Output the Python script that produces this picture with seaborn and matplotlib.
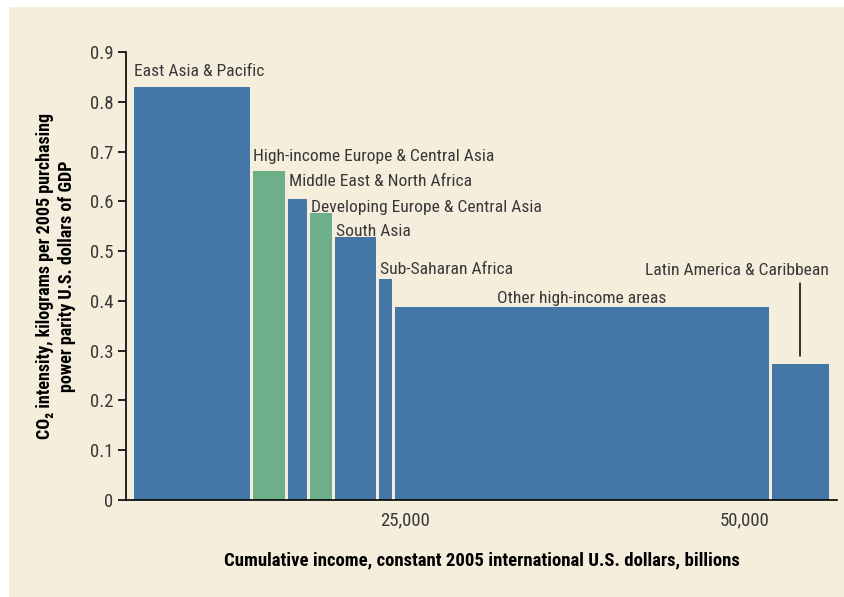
import numpy as np
import matplotlib
matplotlib.use("Agg")
import matplotlib.pyplot as plt
import seaborn as sns
from matplotlib.patches import Rectangle

# Data: regions ordered by CO2 intensity, bar width = income (billions)
regions = ["East Asia & Pacific", "High-income Europe & Central Asia",
           "Middle East & North Africa", "Developing Europe & Central Asia",
           "South Asia", "Sub-Saharan Africa", "Other high-income areas",
           "Latin America & Caribbean"]
income = [8750, 2575, 1615, 1840, 3235, 1175, 27720, 4410]
intensity = [0.83, 0.66, 0.604, 0.576, 0.528, 0.443, 0.387, 0.274]
high_income = [False, True, False, True, False, False, False, False]
x_start = 4960
x_ticks = [25000, 50000]
x_tick_labels = ["25,000", "50,000"]
y_ticks = [0, 0.1, 0.2, 0.3, 0.4, 0.5, 0.6, 0.7, 0.8, 0.9]
y_tick_labels = ["0", "0.1", "0.2", "0.3", "0.4", "0.5", "0.6", "0.7", "0.8", "0.9"]

BG = "#f6eedc"
BLUE = "#4577a6"
GREEN = "#6daf88"
TXT = "#383838"

sns.set_theme(style="ticks")
plt.rcParams["font.family"] = ["Roboto Condensed", "DejaVu Sans"]

fig = plt.figure(figsize=(8.45, 5.97), dpi=100, facecolor=BG)
# white strips on the left and top edges
fig.patches.append(Rectangle((0, 0), 9 / 845, 1, transform=fig.transFigure,
                             facecolor="white", edgecolor="none", zorder=-10))
fig.patches.append(Rectangle((0, 1 - 7 / 597), 1, 7 / 597, transform=fig.transFigure,
                             facecolor="white", edgecolor="none", zorder=-10))
ax = fig.add_axes([126 / 845, 97 / 597, 711 / 845, 448 / 597])
ax.set_facecolor(BG)

lefts = x_start + np.concatenate([[0], np.cumsum(income)[:-1]])
gap = 220
colors = [GREEN if h else BLUE for h in high_income]
ax.bar(lefts + gap / 2, intensity, width=np.array(income) - gap, align="edge",
       color=colors, edgecolor="none")

# labels
FS = 12.6
lab_pos = {
    "East Asia & Pacific": (150, 0.851),
    "High-income Europe & Central Asia": (150, 0.681),
    "Middle East & North Africa": (200, 0.630),
    "Developing Europe & Central Asia": (200, 0.578),
    "South Asia": (200, 0.531),
    "Sub-Saharan Africa": (200, 0.455),
}
for i, name in enumerate(regions):
    if name in lab_pos:
        dx, y = lab_pos[name]
        ax.text(lefts[i] + dx, y, name, ha="left", va="baseline", fontsize=FS, color=TXT)
ax.text(lefts[6] + income[6] / 2, 0.395, regions[6], ha="center", va="baseline",
        fontsize=FS, color=TXT)
ax.text(lefts[7] + income[7] - 100, 0.453, regions[7], ha="right", va="baseline",
        fontsize=FS, color=TXT)
x_line = lefts[7] + income[7] / 2
ax.plot([x_line, x_line], [0.29, 0.435], color="black", lw=1.1)

ax.set_xlim(4485, 56765)
ax.set_ylim(0, 0.9)
ax.set_xticks(x_ticks, x_tick_labels)
ax.set_yticks(y_ticks, y_tick_labels)
ax.tick_params(axis="x", length=0, pad=8, labelsize=13.5, labelcolor=TXT)
ax.tick_params(axis="y", length=6, width=1.2, pad=3, labelsize=13.5, labelcolor=TXT, color="black")
for s in ["top", "right"]:
    ax.spines[s].set_visible(False)
for s in ["left", "bottom"]:
    ax.spines[s].set_linewidth(1.2)
    ax.spines[s].set_color("black")

ax.set_ylabel("CO\u2082 intensity, kilograms per 2005 purchasing\npower parity U.S. dollars of GDP",
              fontsize=13, fontweight="bold", color="black", labelpad=10, linespacing=1.3)
ax.set_xlabel("Cumulative income, constant 2005 international U.S. dollars, billions",
              fontsize=13.5, fontweight="bold", color="black", labelpad=16)

fig.savefig("out.png", dpi=100, facecolor=BG)
